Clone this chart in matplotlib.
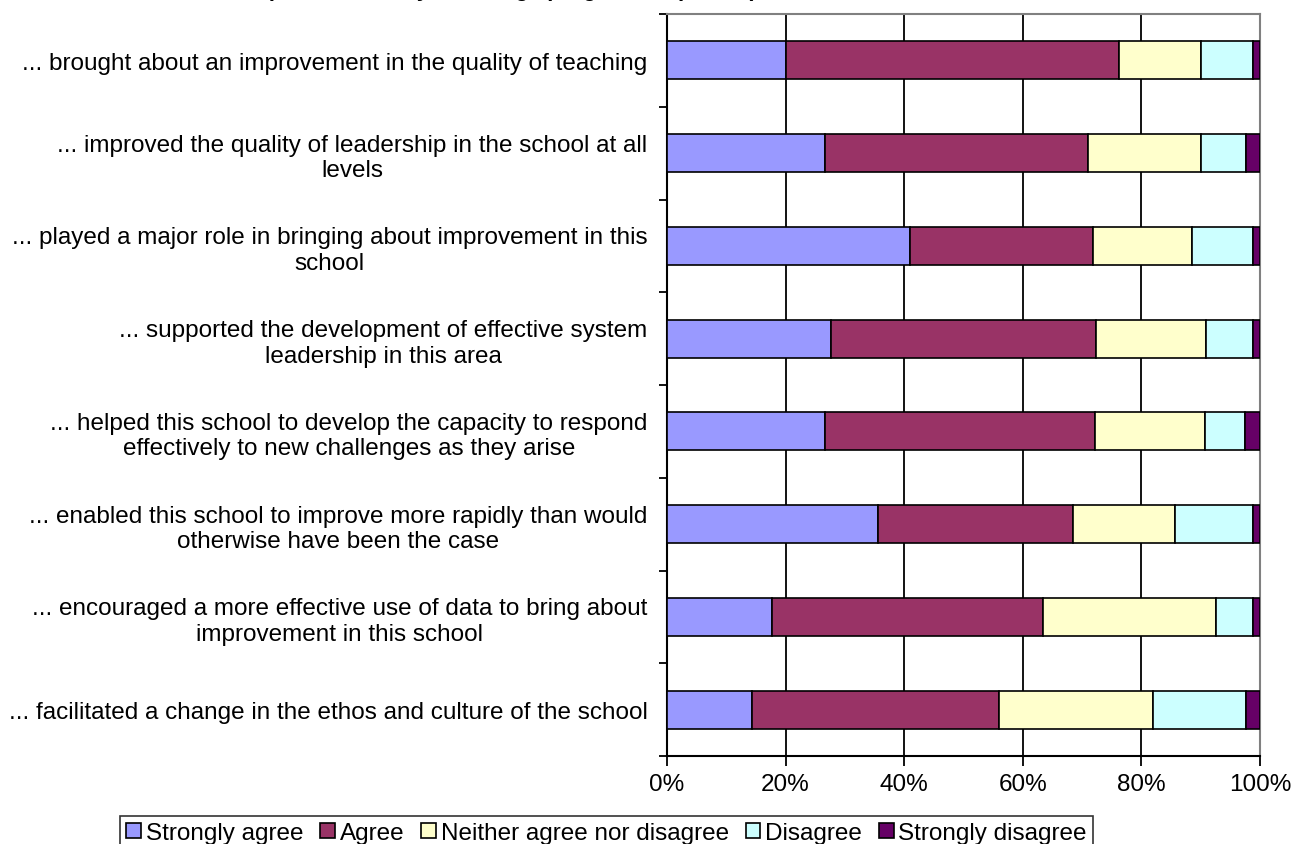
import numpy as np
import matplotlib.pyplot as plt
from matplotlib.ticker import FixedLocator, PercentFormatter

plt.rcParams['font.family'] = ['Liberation Sans', 'DejaVu Sans']

statements = [
    '... brought about an improvement in the quality of teaching',
    '... improved the quality of leadership in the school at all\nlevels',
    '... played a major role in bringing about improvement in this\nschool',
    '... supported the development of effective system\nleadership in this area',
    '... helped this school to develop the capacity to respond\neffectively to new challenges as they arise',
    '... enabled this school to improve more rapidly than would\notherwise have been the case',
    '... encouraged a more effective use of data to bring about\nimprovement in this school',
    '... facilitated a change in the ethos and culture of the school',
]

responses = ['Strongly agree', 'Agree', 'Neither agree nor disagree',
             'Disagree', 'Strongly disagree']

strongly_agree = [20.0, 26.6, 41.0, 27.7, 26.7, 35.6, 17.7, 14.3]
agree = [56.3, 44.4, 30.9, 44.7, 45.4, 32.9, 45.7, 41.7]
neither = [13.8, 19.0, 16.7, 18.5, 18.7, 17.2, 29.2, 25.9]
disagree = [8.7, 7.6, 10.2, 7.9, 6.6, 13.1, 6.2, 15.7]
strongly_disagree = [1.2, 2.4, 1.2, 1.2, 2.6, 1.2, 1.2, 2.4]

colors = ['#9999FF', '#993366', '#FFFFCC', '#CCFFFF', '#660066']

series = [strongly_agree, agree, neither, disagree, strongly_disagree]

fig = plt.figure(figsize=(12.92, 8.45), dpi=100)
ax = fig.add_axes([667 / 1292, 1 - 757 / 845, 593 / 1292, 742 / 845])

y = np.arange(len(statements))
left = np.zeros(len(statements))
for vals, name, col in zip(series, responses, colors):
    vals = np.array(vals)
    ax.barh(y, vals, left=left, height=0.41, color=col, edgecolor='black',
            linewidth=1.2, label=name, zorder=3)
    left += vals

ax.set_xlim(0, 100)
ax.set_ylim(len(statements) - 0.5, -0.5)

# vertical gridlines
for gx in [20, 40, 60, 80]:
    ax.axvline(gx, color='black', linewidth=1.3, zorder=1)

ax.xaxis.set_major_locator(FixedLocator([0, 20, 40, 60, 80, 100]))
ax.xaxis.set_major_formatter(PercentFormatter(decimals=0))
ax.tick_params(axis='x', direction='out', length=7, width=1.3, pad=5,
               labelsize=17.5)

ax.set_yticks(y)
ax.set_yticklabels(statements)
ax.yaxis.set_minor_locator(FixedLocator(np.arange(-0.5, len(statements), 1.0)))
ax.tick_params(axis='y', which='major', length=0, pad=14, labelsize=17.5)
ax.tick_params(axis='y', which='minor', direction='out', length=6, width=1.3)
for t in ax.get_yticklabels():
    t.set_multialignment('center')
    t.set_linespacing(1.2)

for side in ['left', 'bottom']:
    ax.spines[side].set_linewidth(1.5)
    ax.spines[side].set_color('black')
for side in ['top', 'right']:
    ax.spines[side].set_linewidth(1.5)
    ax.spines[side].set_color('#808080')

# chart title sits against the top edge
fig.text(757 / 1292, 1 + 3.5 / 845, 'Impact of the City Challenge programme (Heads)',
         ha='right', va='baseline', fontsize=16, fontweight='bold')

leg = fig.legend(loc='upper left', bbox_to_anchor=(120 / 1292, 1 - 817 / 845),
                 ncol=5, fontsize=17.5, frameon=True, fancybox=False,
                 handlelength=0.6, handleheight=0.6, handletextpad=0.2,
                 columnspacing=0.7, borderpad=0.25, borderaxespad=0)
leg.get_frame().set_edgecolor('black')
leg.get_frame().set_linewidth(1.2)

fig.savefig('out.png', dpi=100)
